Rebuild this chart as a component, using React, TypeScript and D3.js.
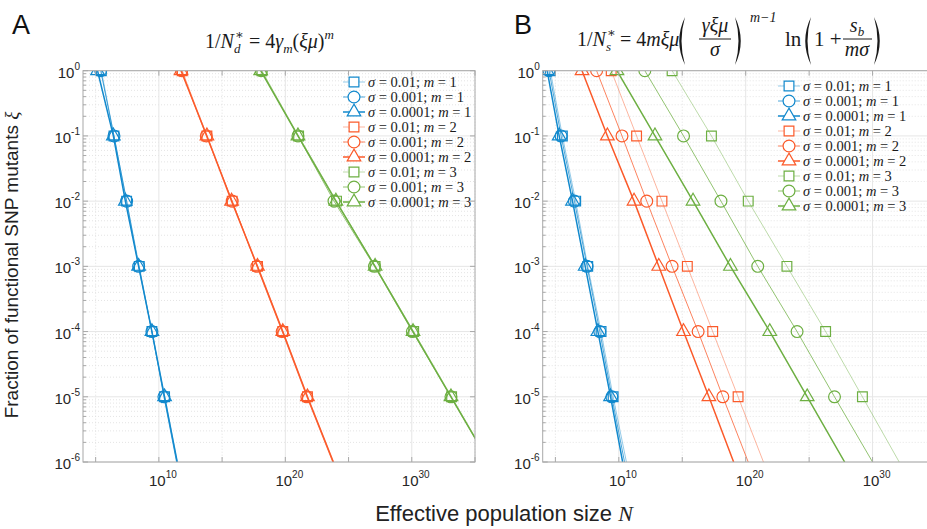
import * as d3 from "d3";
import React from "react";

// fraction of functional SNP mutants (y) at which each curve is sampled
const XI = [1, 1e-1, 1e-2, 1e-3, 1e-4, 1e-5, 1e-6];
const SIGMA_LABELS = ["0.01", "0.001", "0.0001"];
const M_VALUES = [1, 2, 3];
const Y_TICKS = [1, 1e-1, 1e-2, 1e-3, 1e-4, 1e-5, 1e-6];
const Y_EXP = ["0", "-1", "-2", "-3", "-4", "-5", "-6"];
const X_TICKS = [1e10, 1e20, 1e30];
const X_EXP = ["10", "20", "30"];
const X_MINOR = [1e5, 1e15, 1e25, 1e35];

// panel A, log10 of N_d* (sigma = 0.01, 0.001, 0.0001)
const logNA_m1_s1 = [5.45, 6.45, 7.45, 8.45, 9.45, 10.45, 11.45];
const logNA_m1_s2 = [5.4, 6.45, 7.45, 8.4, 9.45, 10.4, 11.4];
const logNA_m1_s3 = [5.15, 6.4, 7.35, 8.4, 9.45, 10.45, 11.45];
const logNA_m2_s1 = [11.85, 13.8, 15.8, 17.8, 19.8, 21.75, 23.8];
const logNA_m2_s2 = [11.8, 13.75, 15.8, 17.75, 19.75, 21.7, 23.75];
const logNA_m2_s3 = [11.75, 13.8, 15.75, 17.8, 19.8, 21.75, 23.8];
const logNA_m3_s1 = [18.15, 21.05, 24.05, 27.1, 30.15, 33.15, 36.15];
const logNA_m3_s2 = [18.1, 21.0, 23.85, 27.05, 30.05, 33.1, 36.1];
const logNA_m3_s3 = [18.05, 21.0, 24.0, 27.1, 30.1, 33.1, 36.1];

// panel B, log10 of N_s*
const logNB_m1_s1 = [4.6, 5.55, 6.6, 7.55, 8.6, 9.55, 10.6];
const logNB_m1_s2 = [4.5, 5.45, 6.5, 7.5, 8.5, 9.45, 10.45];
const logNB_m1_s3 = [4.35, 5.3, 6.35, 7.35, 8.35, 9.35, 10.3];
const logNB_m2_s1 = [9.4, 11.4, 13.4, 15.4, 17.4, 19.4, 21.4];
const logNB_m2_s2 = [8.25, 10.25, 12.2, 14.2, 16.25, 18.2, 20.2];
const logNB_m2_s3 = [7.1, 9.1, 11.2, 13.15, 15.1, 17.1, 19.05];
const logNB_m3_s1 = [14.2, 17.3, 20.2, 23.25, 26.3, 29.2, 32.1];
const logNB_m3_s2 = [12.05, 15.1, 18.05, 20.95, 24.05, 27.0, 30.0];
const logNB_m3_s3 = [9.85, 12.85, 15.85, 18.8, 21.9, 24.85, 27.8];

const COLORS = ["#1289cd", "#fb5a2a", "#6daf42"];
const SYMBOLS = [d3.symbolSquare, d3.symbolCircle, d3.symbolTriangle];
const SYMBOL_SIZE = [95, 110, 80];
const LINE_OPACITY = [0.45, 0.75, 1];
const LINE_WIDTH = [1, 1, 1.5];

const seriesA = [
  [logNA_m1_s1, logNA_m1_s2, logNA_m1_s3],
  [logNA_m2_s1, logNA_m2_s2, logNA_m2_s3],
  [logNA_m3_s1, logNA_m3_s2, logNA_m3_s3],
];
const seriesB = [
  [logNB_m1_s1, logNB_m1_s2, logNB_m1_s3],
  [logNB_m2_s1, logNB_m2_s2, logNB_m2_s3],
  [logNB_m3_s1, logNB_m3_s2, logNB_m3_s3],
];

const Y_TOP = 70.7;
const Y_BOT = 462;
const AXIS = "#a8a8a8";
const SANS = "'Liberation Sans', Arial, sans-serif";
const SERIF = "'Liberation Serif', 'DejaVu Serif', serif";

const y = d3.scaleLog().domain([1e-6, 1]).range([Y_BOT, Y_TOP]);

const yMinor: number[] = [];
for (let k = -6; k < 0; k++) for (let j = 2; j < 10; j++) yMinor.push(j * Math.pow(10, k));

function marker(i: number) {
  return d3.symbol().type(SYMBOLS[i]).size(SYMBOL_SIZE[i])() as string;
}

function Paren({ x, y0, y1, left }: { x: number; y0: number; y1: number; left: boolean }) {
  // big bracket drawn as a thin crescent
  const mid = (y0 + y1) / 2;
  const d = left
    ? `M${x + 8},${y0} Q${x - 3.5},${mid} ${x + 8},${y1} Q${x + 1},${mid} ${x + 8},${y0}Z`
    : `M${x},${y0} Q${x + 11.5},${mid} ${x},${y1} Q${x + 7},${mid} ${x},${y0}Z`;
  return <path d={d} fill="#1a1a1a" />;
}

// N with a starred superscript and a subscript, as in N*_d
function NStar({ x, yb, sub }: { x: number; yb: number; sub: string }) {
  return (
    <g fontFamily={SERIF} fill="#1a1a1a">
      <text x={x} y={yb} fontSize={20}>1/<tspan fontStyle="italic">N</tspan></text>
      <text x={x + 30} y={yb - 9} fontSize={13}>∗</text>
      <text x={x + 29} y={yb + 5} fontSize={13} fontStyle="italic">{sub}</text>
    </g>
  );
}

function Panel({ id, x0, x1, series, legendX, legendY }: any) {
  const x = d3.scaleLog().domain([1e4, 1e35]).range([x0, x1]);
  const line = d3
    .line<number>()
    .x((v) => x(Math.pow(10, v)))
    .y((_, i) => y(XI[i]));
  const clip = `clip-${id}`;
  return (
    <g>
      <defs>
        <clipPath id={clip}>
          <rect x={x0} y={Y_TOP} width={x1 - x0} height={Y_BOT - Y_TOP} />
        </clipPath>
      </defs>
      {/* grid */}
      {yMinor.map((v, i) => (
        <line key={"ym" + i} x1={x0} x2={x1} y1={y(v)} y2={y(v)} stroke="#e4e4e4" strokeDasharray="1,2" />
      ))}
      {X_MINOR.map((v, i) => (
        <line key={"xm" + i} x1={x(v)} x2={x(v)} y1={Y_TOP} y2={Y_BOT} stroke="#e0e0e0" strokeDasharray="1,2" />
      ))}
      {Y_TICKS.map((v, i) => (
        <line key={"yg" + i} x1={x0} x2={x1} y1={y(v)} y2={y(v)} stroke="#e6e6e6" />
      ))}
      {X_TICKS.map((v, i) => (
        <line key={"xg" + i} x1={x(v)} x2={x(v)} y1={Y_TOP} y2={Y_BOT} stroke="#e6e6e6" />
      ))}
      {/* series */}
      <g clipPath={`url(#${clip})`}>
        {series.map((group: number[][], m: number) =>
          group.map((vals, s) => (
            <g key={`${m}-${s}`}>
              <path
                d={line(vals) as string}
                fill="none"
                stroke={COLORS[m]}
                strokeOpacity={LINE_OPACITY[s]}
                strokeWidth={LINE_WIDTH[s]}
              />
              {vals.slice(0, 6).map((v, i) => (
                <path
                  key={i}
                  d={marker(s)}
                  transform={`translate(${x(Math.pow(10, v))},${y(XI[i])})`}
                  fill="none"
                  stroke={COLORS[m]}
                  strokeWidth={1.2}
                />
              ))}
            </g>
          ))
        )}
      </g>
      {/* axes box */}
      <rect x={x0} y={Y_TOP} width={x1 - x0} height={Y_BOT - Y_TOP} fill="none" stroke={AXIS} />
      {Y_TICKS.map((v, i) => (
        <g key={"yt" + i}>
          <line x1={x0} x2={x0 + 5} y1={y(v)} y2={y(v)} stroke={AXIS} />
          <line x1={x1} x2={x1 - 5} y1={y(v)} y2={y(v)} stroke={AXIS} />
          <text x={x0 - 3} y={y(v) + 7} textAnchor="end" fontFamily={SANS} fontSize={15} fill="#262626">
            10<tspan fontSize={10} dy={-8}>{Y_EXP[i]}</tspan>
          </text>
        </g>
      ))}
      {yMinor.map((v, i) => (
        <line key={"ymt" + i} x1={x0} x2={x0 + 3} y1={y(v)} y2={y(v)} stroke={AXIS} />
      ))}
      {[...X_TICKS, ...X_MINOR].map((v, i) => (
        <g key={"xt" + i}>
          <line x1={x(v)} x2={x(v)} y1={Y_BOT} y2={Y_BOT - 5} stroke={AXIS} />
          <line x1={x(v)} x2={x(v)} y1={Y_TOP} y2={Y_TOP + 5} stroke={AXIS} />
        </g>
      ))}
      {X_TICKS.map((v, i) => (
        <text key={"xl" + i} x={x(v) + 4} y={486} textAnchor="middle" fontFamily={SANS} fontSize={15} fill="#262626">
          10<tspan fontSize={10} dy={-8}>{X_EXP[i]}</tspan>
        </text>
      ))}
      {/* legend */}
      {M_VALUES.map((m, mi) =>
        SIGMA_LABELS.map((sg, si) => {
          const ly = legendY + (mi * 3 + si) * 15;
          return (
            <g key={`lg${mi}${si}`}>
              <line
                x1={legendX}
                x2={legendX + 22}
                y1={ly}
                y2={ly}
                stroke={COLORS[mi]}
                strokeOpacity={LINE_OPACITY[si]}
                strokeWidth={LINE_WIDTH[si]}
              />
              <path d={marker(si)} transform={`translate(${legendX + 11},${ly})`} fill="#fff" stroke={COLORS[mi]} strokeWidth={1.2} />
              <text x={legendX + 25} y={ly + 5} fontFamily={SERIF} fontSize={14.5} fill="#1a1a1a">
                <tspan fontStyle="italic">σ</tspan> = {sg}; <tspan fontStyle="italic">m</tspan> = {m}
              </text>
            </g>
          );
        })
      )}
    </g>
  );
}

export default function App() {
  return (
    <div>
      <style>{"body{margin:0}"}</style>
      <svg width={927} height={529} style={{ display: "block", background: "#fff" }}>
        <Panel id="a" x0={83} x1={475} series={seriesA} legendX={343} legendY={82} />
        <Panel id="b" x0={542.7} x1={936} series={seriesB} legendX={778} legendY={86} />

        <text x={12} y={34} fontFamily={SANS} fontSize={27} fill="#111">A</text>
        <text x={514} y={34} fontFamily={SANS} fontSize={27} fill="#111">B</text>

        {/* title A */}
        <NStar x={205} yb={48} sub="d" />
        <text x={249} y={48} fontFamily={SERIF} fontSize={20} fill="#1a1a1a">
          = 4<tspan fontStyle="italic">γ</tspan>
          <tspan fontSize={13} fontStyle="italic" dy={5}>m</tspan>
          <tspan dy={-5}>(</tspan>
          <tspan fontStyle="italic">ξμ</tspan>)
          <tspan fontSize={13} fontStyle="italic" dy={-9}>m</tspan>
        </text>

        {/* title B */}
        <g fontFamily={SERIF} fill="#1a1a1a">
          <NStar x={577} yb={46} sub="s" />
          <text x={620} y={46} fontSize={20}>
            = 4<tspan fontStyle="italic">mξμ</tspan>
          </text>
          <Paren x={677} y0={17} y1={65} left />
          <text x={715} y={32} fontSize={20} textAnchor="middle" fontStyle="italic">γξμ</text>
          <line x1={699} x2={731} y1={39} y2={39} stroke="#1a1a1a" strokeWidth={1} />
          <text x={715} y={56} fontSize={20} textAnchor="middle" fontStyle="italic">σ</text>
          <Paren x={735} y0={17} y1={65} left={false} />
          <text x={750} y={22} fontSize={14} fontStyle="italic">m−1</text>
          <text x={785} y={46} fontSize={21}>ln</text>
          <Paren x={803} y0={17} y1={65} left />
          <text x={814} y={46} fontSize={21}>1 +</text>
          <text x={857} y={32} fontSize={20} textAnchor="middle" fontStyle="italic">
            s<tspan fontSize={13} dy={4}>b</tspan>
          </text>
          <line x1={843} x2={872} y1={39} y2={39} stroke="#1a1a1a" strokeWidth={1} />
          <text x={857} y={56} fontSize={20} textAnchor="middle" fontStyle="italic">mσ</text>
          <Paren x={874} y0={17} y1={65} left={false} />
        </g>

        <text
          transform="translate(18,265) rotate(-90)"
          textAnchor="middle"
          fontFamily={SANS}
          fontSize={19}
          fill="#222"
        >
          Fraction of functional SNP mutants <tspan fontFamily={SERIF} fontStyle="italic">ξ</tspan>
        </text>
        <text x={504} y={521} textAnchor="middle" fontFamily={SANS} fontSize={22} fill="#222">
          Effective population size <tspan fontFamily={SERIF} fontStyle="italic">N</tspan>
        </text>
      </svg>
    </div>
  );
}
